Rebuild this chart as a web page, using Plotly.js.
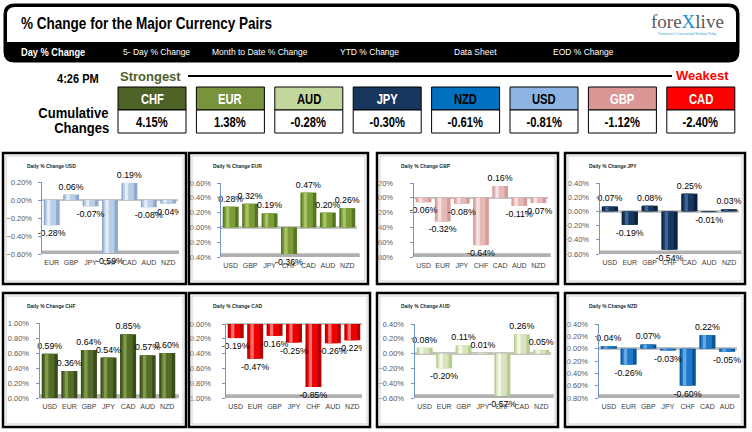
<!DOCTYPE html>
<html>
<head>
<meta charset="utf-8">
<script src="https://cdn.plot.ly/plotly-3.0.1.min.js"></script>
<style>
	html, body { margin: 0; padding: 0; background: #fff; }
	#chart { width: 752px; height: 432px; }
</style>
</head>
<body>
<div id="chart"></div>
<script>
// cumulative strength ranking (strongest -> weakest)
const rankCurrencies = [ 'CHF', 'EUR', 'AUD', 'JPY', 'NZD', 'USD', 'GBP', 'CAD' ];
const rankValues = [ 4.15, 1.38, -0.28, -0.30, -0.61, -0.81, -1.12, -2.40 ];

const menuItems = [ 'Day % Change', '5- Day % Change', 'Month to Date % Change', 'YTD % Change', 'Data Sheet', 'EOD % Change' ];

// daily % change per base currency
const usdCats = [ 'EUR', 'GBP', 'JPY', 'CHF', 'CAD', 'AUD', 'NZD' ];
const usdVals = [ -0.28, 0.06, -0.07, -0.59, 0.19, -0.08, -0.04 ];

const eurCats = [ 'USD', 'GBP', 'JPY', 'CHF', 'CAD', 'AUD', 'NZD' ];
const eurVals = [ 0.28, 0.32, 0.19, -0.36, 0.47, 0.20, 0.26 ];

const gbpCats = [ 'USD', 'EUR', 'JPY', 'CHF', 'CAD', 'AUD', 'NZD' ];
const gbpVals = [ -0.06, -0.32, -0.08, -0.64, 0.16, -0.11, -0.07 ];

const jpyCats = [ 'USD', 'EUR', 'GBP', 'CHF', 'CAD', 'AUD', 'NZD' ];
const jpyVals = [ 0.07, -0.19, 0.08, -0.54, 0.25, -0.01, 0.03 ];

const chfCats = [ 'USD', 'EUR', 'GBP', 'JPY', 'CAD', 'AUD', 'NZD' ];
const chfVals = [ 0.59, 0.36, 0.64, 0.54, 0.85, 0.57, 0.60 ];

const cadCats = [ 'USD', 'EUR', 'GBP', 'JPY', 'CHF', 'AUD', 'NZD' ];
const cadVals = [ -0.19, -0.47, -0.16, -0.25, -0.85, -0.26, -0.22 ];

const audCats = [ 'USD', 'EUR', 'GBP', 'JPY', 'CHF', 'CAD', 'NZD' ];
const audVals = [ 0.08, -0.20, 0.11, 0.01, -0.57, 0.26, 0.05 ];

const nzdCats = [ 'USD', 'EUR', 'GBP', 'JPY', 'CHF', 'CAD', 'AUD' ];
const nzdVals = [ 0.04, -0.26, 0.07, -0.03, -0.60, 0.22, -0.05 ];

/**
 * Colours: [header fill, header text] for ranking boxes
 * and [edge, body, highlight] for the cylinder bars
 */
const boxColors = {
	CHF: [ '#4f6228', '#fff' ], EUR: [ '#77933c', '#fff' ], AUD: [ '#c3d69b', '#000' ], JPY: [ '#17375e', '#fff' ],
	NZD: [ '#0070c0', '#000' ], USD: [ '#8db4e2', '#000' ], GBP: [ '#da9694', '#fff' ], CAD: [ '#ff0000', '#fff' ],
};
const barColors = {
	USD: [ '#8eaad0', '#b9cde5', '#e3ecf6' ],
	EUR: [ '#56761f', '#7b9c36', '#a6c466' ],
	GBP: [ '#d49b99', '#e6b9b8', '#f7e2e1' ],
	JPY: [ '#0d2240', '#17375e', '#3c6494' ],
	CHF: [ '#3a4c19', '#536c28', '#7f9b4a' ],
	CAD: [ '#b80000', '#ee0000', '#ff7070' ],
	AUD: [ '#b9cc8f', '#d7e4bd', '#f2f7e6' ],
	NZD: [ '#0a5797', '#1f78c8', '#63a9e3' ],
};

const SANS = '"Liberation Sans", Arial, sans-serif';

/**
 * Panel placement, in page pixels: frame box, plot area and y label gap
 */
const panels = [
	{ cur: 'USD', cats: usdCats, vals: usdVals, range: [ -0.6, 0.2 ], frame: [ 3, 153, 186, 284 ], plot: [ 42, 182, 178, 254 ], gap: 4 },
	{ cur: 'EUR', cats: eurCats, vals: eurVals, range: [ -0.4, 0.6 ], frame: [ 189, 153, 368, 284 ], plot: [ 221, 183, 357, 257 ], gap: 4 },
	{ cur: 'GBP', cats: gbpCats, vals: gbpVals, range: [ -0.8, 0.2 ], frame: [ 377, 153, 558, 284 ], plot: [ 414, 183, 548, 257 ], gap: 15 },
	{ cur: 'JPY', cats: jpyCats, vals: jpyVals, range: [ -0.6, 0.4 ], frame: [ 565, 153, 745, 284 ], plot: [ 600, 183, 739, 254 ], gap: 5 },
	{ cur: 'CHF', cats: chfCats, vals: chfVals, range: [ 0, 1.0 ], frame: [ 3, 293, 186, 427 ], plot: [ 40, 323, 177, 398 ], gap: 5 },
	{ cur: 'CAD', cats: cadCats, vals: cadVals, range: [ -1.0, 0 ], frame: [ 189, 293, 370, 427 ], plot: [ 226, 324, 362, 398 ], gap: 9 },
	{ cur: 'AUD', cats: audCats, vals: audVals, range: [ -0.6, 0.4 ], frame: [ 377, 293, 558, 427 ], plot: [ 415, 324, 551, 398 ], gap: 5 },
	{ cur: 'NZD', cats: nzdCats, vals: nzdVals, range: [ -0.8, 0.4 ], frame: [ 565, 293, 745, 427 ], plot: [ 599, 324, 737, 398 ], gap: 5 },
];

const W = 752, H = 432;
const xp = v => v / W;
const yp = v => 1 - v / H;
const P = ( x, y ) => `${xp(x)},${yp(y)}`;

function rect( x0, y0, x1, y1, opts ){
	return Object.assign({
		type: 'rect', xref: 'paper', yref: 'paper',
		x0: xp(x0), x1: xp(x1), y0: yp(y1), y1: yp(y0),
	}, opts);
}

// rounded rectangle path, corners optional top / bottom
function roundPath( x0, y0, x1, y1, r, top, bottom ){
	const rt = top ? r : 0, rb = bottom ? r : 0;
	return `M${P(x0 + rt, y0)} L${P(x1 - rt, y0)} Q${P(x1, y0)} ${P(x1, y0 + rt)} ` +
		`L${P(x1, y1 - rb)} Q${P(x1, y1)} ${P(x1 - rb, y1)} L${P(x0 + rb, y1)} ` +
		`Q${P(x0, y1)} ${P(x0, y1 - rb)} L${P(x0, y0 + rt)} Q${P(x0, y0)} ${P(x0 + rt, y0)} Z`;
}

const shapes = [];
const annotations = [];
const condensed = []; // [annotation index, width factor] - Impact-like narrow text
const data = [];

function text( x, y, str, font, anchor, squeeze ){
	anchor = anchor || 'center';
	annotations.push({
		xref: 'paper', yref: 'paper', x: xp(x), y: yp(y), text: str,
		showarrow: false, font: font, xanchor: anchor, yanchor: 'middle', align: anchor,
	});
	if ( squeeze ) condensed.push([ annotations.length - 1, squeeze ]);
}

const layout = {
	width: W, height: H,
	margin: { l: 0, r: 0, t: 0, b: 0 },
	paper_bgcolor: '#fff', plot_bgcolor: 'rgba(0,0,0,0)',
	showlegend: false, barmode: 'overlay',
	font: { family: SANS },
};

/**
 * Header: rounded frame, title, logo and menu band
 */
shapes.push({ type: 'path', xref: 'paper', yref: 'paper', path: roundPath(4, 4, 739, 62, 10, true, true), fillcolor: '#000', line: { color: '#000', width: 1 }, layer: 'below' });
shapes.push({ type: 'path', xref: 'paper', yref: 'paper', path: roundPath(7, 7, 736, 42, 8, true, false), fillcolor: '#fff', line: { width: 0 }, layer: 'below' });

text(19, 23, '% Change for the Major Currency Pairs', { family: SANS, size: 16.5, color: '#000', weight: 'bold' }, 'left', 0.82);
text(687, 21, 'fore<span style="color:#1a8fd8">X</span>live', { family: '"Liberation Serif", serif', size: 19, color: '#5a5a5a' });
text(687, 34, 'Tomorrow\'s Conventional Wisdom Today', { family: '"Liberation Serif", serif', size: 3.5, color: '#2e9bd6' });

const menuX = [ 19, 121, 210, 338, 452, 551 ];
menuItems.forEach(( item, i ) => {
	const first = i === 0;
	text(menuX[i], 52, item, { family: SANS, size: first ? 10.5 : 8.5, color: '#fff', weight: first ? 'bold' : 'normal' }, 'left', first ? 0.88 : 0);
});

/**
 * Strongest -> weakest ranking boxes
 */
text(55, 78, '4:26 PM', { family: SANS, size: 13.5, color: '#000', weight: 'bold' }, 'left', 0.82);
text(150, 76, 'Strongest', { family: SANS, size: 13, color: '#4f6228', weight: 'bold' });
text(702, 75, 'Weakest', { family: SANS, size: 13, color: '#ff0000', weight: 'bold' });
shapes.push({ type: 'line', xref: 'paper', yref: 'paper', x0: xp(188), x1: xp(672), y0: yp(76), y1: yp(76), line: { color: '#000', width: 2 } });

text(111, 113, 'Cumulative', { family: SANS, size: 14, color: '#000', weight: 'bold' }, 'right', 0.93);
text(111, 128, 'Changes', { family: SANS, size: 14, color: '#000', weight: 'bold' }, 'right', 0.93);

rankCurrencies.forEach(( cur, i ) => {
	const x0 = 118 + i * 78.4, x1 = x0 + 68;
	shapes.push(rect(x0, 87, x1, 110, { fillcolor: boxColors[cur][0], line: { color: '#000', width: 1 } }));
	shapes.push(rect(x0, 110, x1, 133, { fillcolor: '#fff', line: { color: '#000', width: 1 } }));
	text((x0 + x1) / 2, 99, cur, { family: SANS, size: 14, color: boxColors[cur][1], weight: 'bold' }, 'center', 0.8);
	text((x0 + x1) / 2, 122, rankValues[i].toFixed(2) + '%', { family: SANS, size: 14, color: '#000', weight: 'bold' }, 'center', 0.8);
});

/**
 * Daily change panels - cylinder look made of three overlaid bars
 */
const barLayers = [
	{ width: 0.82, offset: -0.41 },
	{ width: 0.56, offset: -0.33 },
	{ width: 0.17, offset: -0.24 },
];

panels.forEach(( p, i ) => {
	const n = i === 0 ? '' : String(i + 1);
	const xId = 'x' + n, yId = 'y' + n;
	const [ fx0, fy0 ] = p.frame;
	const [ px0, py0, px1, py1 ] = p.plot;
	const colors = barColors[p.cur];

	barLayers.forEach(( bl, j ) => {
		data.push({
			type: 'bar', x: p.cats, y: p.vals, xaxis: xId, yaxis: yId,
			width: bl.width, offset: bl.offset,
			marker: { color: colors[j], line: { width: 0 } },
			hoverinfo: 'skip',
		});
	});

	// transparent bar on top carrying the value labels
	data.push({
		type: 'bar', x: p.cats, y: p.vals, xaxis: xId, yaxis: yId,
		width: 0.82, offset: -0.41,
		marker: { color: 'rgba(0,0,0,0)', line: { width: 0 } },
		texttemplate: '%{y:.2f}%', textposition: 'outside', constraintext: 'none',
		textfont: { family: SANS, size: 8.8, color: '#000' },
		cliponaxis: false, hoverinfo: 'skip',
	});

	layout['xaxis' + n] = {
		domain: [ xp(px0), xp(px1) ], anchor: yId, type: 'category',
		showline: false, showgrid: false, zeroline: false, ticks: '',
		tickfont: { family: SANS, size: 7, color: '#404040' },
		ticklabelstandoff: 3, fixedrange: true,
	};
	layout['yaxis' + n] = {
		domain: [ yp(py1), yp(py0) ], anchor: xId, range: p.range,
		tick0: 0, dtick: 0.2, tickformat: '.2f', ticksuffix: '%',
		showline: true, linecolor: '#7096cc', linewidth: 1.5,
		ticks: 'outside', ticklen: 3, tickcolor: '#7096cc',
		tickfont: { family: SANS, size: 7.5, color: '#595959' },
		ticklabelstandoff: p.gap,
		showgrid: false, zeroline: true, zerolinecolor: '#c4c4c4', zerolinewidth: 2.5,
		fixedrange: true,
	};

	// 3D floor under the bars
	shapes.push({
		type: 'rect', xref: xId + ' domain', yref: yId + ' domain',
		x0: 0, x1: 1.02, y0: 0, y1: 0.05,
		fillcolor: '#b0b0b0', line: { width: 0 }, layer: 'below',
	});

	text(fx0 + 22, fy0 + 13, 'Daily % Change ' + p.cur, { family: SANS, size: 5.6, color: '#262626', weight: 'bold' }, 'left', 0.88);
});

/**
 * Frames drawn last: clip overflowing tick labels in the gaps, then borders
 */
[ [ 153, 284 ], [ 293, 427 ] ].forEach(([ y0, y1 ]) => {
	shapes.push(rect(179, y0, 190, y1, { fillcolor: '#fff', line: { width: 0 }, layer: 'above' }));
	shapes.push(rect(362, y0, 377, y1, { fillcolor: '#fff', line: { width: 0 }, layer: 'above' }));
	shapes.push(rect(556, y0, 565, y1, { fillcolor: '#fff', line: { width: 0 }, layer: 'above' }));
});
panels.forEach(p => {
	const [ fx0, fy0, fx1, fy1 ] = p.frame;
	shapes.push(rect(fx0 + 3, fy0 + 3, fx1 - 3, fy1 - 3, { line: { color: '#d0d0d0', width: 1 }, layer: 'above' }));
	shapes.push(rect(fx0, fy0, fx1, fy1, { line: { color: '#000', width: 2.5 }, layer: 'above' }));
});

layout.shapes = shapes;
layout.annotations = annotations;

Plotly.newPlot('chart', data, layout, { displayModeBar: false, staticPlot: true }).then(gd => {
	// squeeze the headline texts horizontally (no condensed face installed)
	condensed.forEach(([ idx, factor ]) => {
		const el = gd.querySelector(`g.annotation[data-index="${idx}"] text`);
		if ( !el ) return;
		const w = el.getComputedTextLength();
		el.setAttribute('textLength', (w * factor).toFixed(1));
		el.setAttribute('lengthAdjust', 'spacingAndGlyphs');
	});
});
</script>
</body>
</html>
